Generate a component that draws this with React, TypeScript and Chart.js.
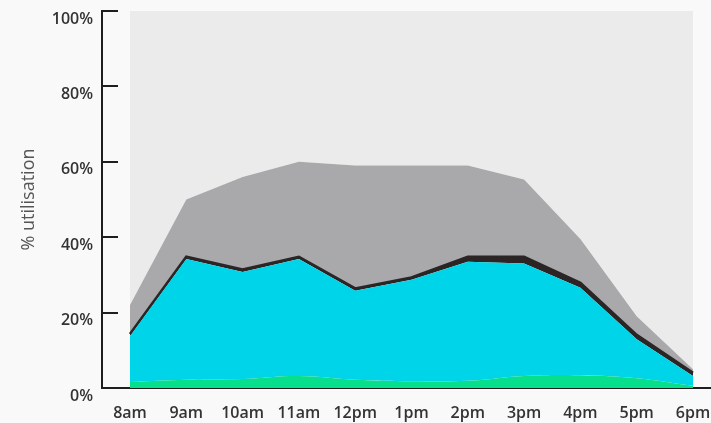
import React, { useEffect, useRef } from "react";
import { Chart, registerables } from "chart.js";

Chart.register(...registerables);

const hours = ["8am", "9am", "10am", "11am", "12pm", "1pm", "2pm", "3pm", "4pm", "5pm", "6pm"];
// cumulative boundaries (% utilisation) of each stacked band
const greenTop = [1.6, 2.2, 2.4, 3.2, 2.2, 1.8, 1.9, 3.2, 3.4, 2.6, 0.6];
const cyanTop = [13.8, 34.2, 30.8, 34.2, 25.8, 28.7, 33.5, 33.0, 26.6, 12.9, 3.2];
const darkTop = [14.3, 34.8, 31.4, 34.8, 26.4, 29.3, 34.8, 34.8, 27.9, 14.1, 4.0];
const greyTop = [22, 50, 56, 60, 59, 59, 59, 55.3, 39.5, 19, 5];
const fullTop = [100, 100, 100, 100, 100, 100, 100, 100, 100, 100, 100];
const yTicks = [0, 20, 40, 60, 80, 100];
const yTickLabels = ["0%", "20%", "40%", "60%", "80%", "100%"];

const toPts = (arr: number[]) => arr.map((y, i) => ({ x: i, y }));

const innerTicks = {
  id: "innerTicks",
  afterDraw(chart: any) {
    const { ctx, chartArea, scales } = chart;
    ctx.save();
    ctx.strokeStyle = "#1e1e1e";
    ctx.lineWidth = 2;
    yTicks.forEach((v) => {
      const y = Math.round(scales.y.getPixelForValue(v));
      ctx.beginPath();
      ctx.moveTo(chartArea.left, y);
      ctx.lineTo(chartArea.left + 16, y);
      ctx.stroke();
    });
    ctx.restore();
  },
};

export default function App() {
  const ref = useRef<HTMLCanvasElement>(null);
  useEffect(() => {
    document.body.style.margin = "0";
    document.body.style.background = "#f9f9f9";
    const tickFont = { family: "'Open Sans', sans-serif", size: 16, weight: 600 as any };
    const chart = new Chart(ref.current!, {
      type: "line",
      data: {
        datasets: [
          { label: "green", data: toPts(greenTop), fill: "origin", backgroundColor: "#06e08c", borderWidth: 0, pointRadius: 0, tension: 0.4 },
          { label: "cyan", data: toPts(cyanTop), fill: "-1", backgroundColor: "#00d4e8", borderWidth: 0, pointRadius: 0 },
          { label: "dark", data: toPts(darkTop), fill: "-1", backgroundColor: "#2b2526", borderColor: "#2b2526", borderWidth: 2.6, pointRadius: 0 },
          { label: "grey", data: toPts(greyTop), fill: "-1", backgroundColor: "#a9a8ab", borderWidth: 0, pointRadius: 0 },
          { label: "free", data: toPts(fullTop), fill: "-1", backgroundColor: "#ebebeb", borderWidth: 0, pointRadius: 0 },
        ],
      },
      options: {
        responsive: false,
        animation: false,
        events: [],
        layout: { padding: { top: 11, left: 0, right: 0, bottom: 0 } },
        plugins: { legend: { display: false }, tooltip: { enabled: false } },
        scales: {
          x: {
            type: "linear",
            min: -0.497,
            max: 10.32,
            grid: { display: false, drawTicks: false },
            border: { display: true, color: "#1e1e1e", width: 2 },
            afterBuildTicks: (s: any) => {
              s.ticks = hours.map((_, i) => ({ value: i }));
            },
            afterFit: (s: any) => {
              s.height = 35;
              s.paddingLeft = 0;
              s.paddingRight = 0;
            },
            ticks: {
              autoSkip: false,
              maxRotation: 0,
              padding: 16,
              color: "#333",
              font: tickFont,
              callback: (v: any) => hours[v] ?? "",
            },
          },
          y: {
            min: 0,
            max: 100,
            grid: { display: false, drawTicks: false },
            border: { display: true, color: "#1e1e1e", width: 2 },
            afterBuildTicks: (s: any) => {
              s.ticks = yTicks.map((v) => ({ value: v }));
            },
            afterFit: (s: any) => {
              s.width = 102;
              s.paddingTop = 0;
              s.paddingBottom = 0;
            },
            ticks: {
              padding: 9,
              labelOffset: 8,
              color: "#333",
              font: tickFont,
              callback: (v: any) => yTickLabels[yTicks.indexOf(v)] ?? "",
            },
            title: {
              display: true,
              text: "% utilisation",
              color: "#555",
              font: { family: "'Open Sans', sans-serif", size: 18, weight: 400 as any },
              padding: { top: 18, bottom: 0 },
            },
          },
        },
      },
      plugins: [innerTicks],
    });
    return () => chart.destroy();
  }, []);
  return (
    <div style={{ width: 711, height: 423 }}>
      <canvas ref={ref} width={711} height={423} style={{ display: "block" }} />
    </div>
  );
}
